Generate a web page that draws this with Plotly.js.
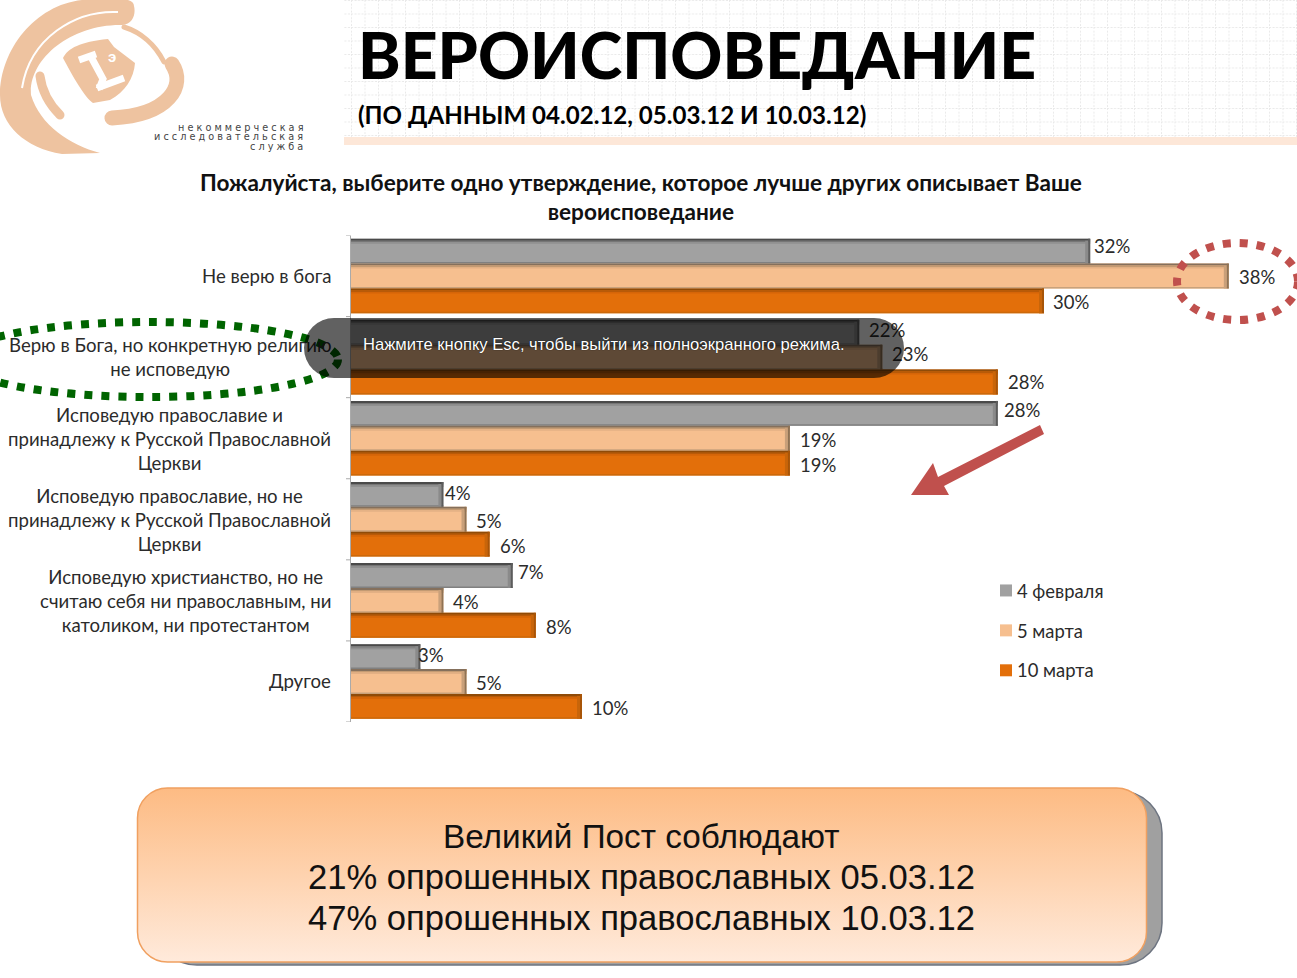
<!DOCTYPE html>
<html><head><meta charset="utf-8">
<script src="https://cdn.plot.ly/plotly-3.0.1.min.js"></script>
<style>
html,body{margin:0;padding:0;background:#fff;overflow:hidden}
#bg,#chart,#ov{position:absolute;left:0;top:0;width:1297px;height:978px}
#pill{position:absolute;left:304px;top:318px;width:600px;height:60px;border-radius:30px;background:rgba(0,0,0,.62);
color:#fff;font:16.6px "Liberation Sans",sans-serif;box-sizing:border-box;padding:17px 0 0 59px;white-space:nowrap;text-shadow:0 0 1px #000}
</style></head><body>
<svg id="bg" viewBox="0 0 1297 978">
<defs>
<pattern id="g" width="13.5" height="13.5" patternUnits="userSpaceOnUse"><path d="M0 .5H13.5M.5 0V13.5" stroke="#e9e9e9" stroke-width="1" stroke-dasharray="2 1.5" fill="none"/></pattern>
<linearGradient id="bx" x1="0" y1="0" x2="0" y2="1"><stop offset="0" stop-color="#fdbb83"/><stop offset="1" stop-color="#ffeadb"/></linearGradient>
</defs>
<rect x="344" y="0" width="953" height="137" fill="url(#g)"/>
<rect x="344" y="137" width="953" height="8" fill="#fde7d8"/>
<g fill="#eec3a0">
<path d="M134 6C134 -4 108 -2 82 0C35 5 0 50 0 95C0 125 25 148 62 154L100 153C70 145 40 125 31 95C28 60 70 24 122 25C133 24 136 14 134 6Z"/>
<path d="M63 58C68 48 80 42 108 39L114 47L135 63C134 78 125 92 110 100L93 103C85 98 72 75 63 58Z"/>
</g>
<g fill="none" stroke="#eec3a0" stroke-linecap="round">
<path d="M40 76C42 92 50 105 60 115" stroke-width="9"/>
<path d="M172 64C186 85 170 115 112 118" stroke-width="15"/>
<path d="M124 27C140 32 155 44 164 62" stroke-width="5"/>
</g>
<path d="M118 12C75 10 30 38 22 88" fill="none" stroke="#fff" stroke-width="2"/>
<g fill="none" stroke="#fff" stroke-width="7">
<path d="M79 60L96 54"/><path d="M90 55L103 79L99 89"/><path d="M97 88L124 78"/>
</g>
<text x="108" y="62" font-family="Liberation Sans" font-size="15" font-weight="bold" fill="#fff">э</text>
<rect x="155" y="791" width="1007" height="174" rx="42" fill="#a0a0a0" stroke="#6d7480" stroke-width="1.5"/>
<rect x="137.500" y="788" width="1009" height="174" rx="30" fill="url(#bx)" stroke="#f0a060" stroke-width="1.5"/>
</svg>
<div id="chart"></div>
<div id="ov"><div id="pill">Нажмите кнопку Esc, чтобы выйти из полноэкранного режима.</div></div>
<script>
const categories = ["Не верю в бога","Верю в Бога, но конкретную религию<br>не исповедую","Исповедую православие и<br>принадлежу к Русской Православной<br>Церкви","Исповедую православие, но не<br>принадлежу к Русской Православной<br>Церкви","Исповедую христианство, но не<br>считаю себя ни православным, ни<br>католиком, ни протестантом","Другое"];
const seriesNames = ["4 февраля","5 марта","10 марта"];
const feb4 = [32,22,28,4,7,3];
const mar5 = [38,23,19,5,4,5];
const mar10 = [30,28,19,6,8,10];
const heading = "Пожалуйста, выберите одно утверждение, которое лучше других описывает Ваше<br>вероисповедание";
const boxLines = ["Великий Пост соблюдают","21% опрошенных православных 05.03.12","47% опрошенных православных 10.03.12"];
const labelXShift = [[5,11,7,3,6,-1],[11,11,11,10,11,10],[10,11,11,11,11,11]];
const labelYShift = [[-5.5,-2.5,-3.5,-1.5,-3.5,-1.5],[0.5,-3.5,1.5,1.5,1.5,1.5],[1.5,0.5,1.5,1.5,1.5,1.5]];
const W=1297,H=978, PX=23.1, F='Lato, "Open Sans", sans-serif', TXT='#2b2b2b';
const px=x=>x/W, py=y=>1-y/H;
const TOP=235.5,BOT=722;
const main=['#a1a1a1','#f6bf8f','#e36f0a'], topA=['#4a4a4a','#85705c','#8f4b08'], topB=['#767676','#c39a72','#b85a08'], topC=['#909090','#e3b084','#d56508'], right=['#5c5c5c','#8f7355','#a85508'], right2=['#8a8a8a','#c9a07a','#c8650a'], bottom=['#808080','#c8a27c','#cc690a'];
const all=[feb4,mar5,mar10];
const gap=0.08, bw=(1-gap)/3, xu=1/PX, yp=6/(BOT-TOP);
const traces=all.map((v,k)=>({type:'bar',orientation:'h',name:seriesNames[k],y:categories.map((c,i)=>i),x:v,
 marker:{color:main[k],line:{width:0}},hoverinfo:'skip',legendgroup:'g'+k}));
const shapes=[];
all.forEach((v,k)=>v.forEach((n,i)=>{
 const y0=i-(1-gap)/2+k*bw, y1=y0+bw;
 const r=(x0,x1,a,b,c)=>shapes.push({type:'rect',xref:'x',yref:'y',x0,x1,y0:a,y1:b,fillcolor:c,line:{width:0},layer:'above'});
 r(0,n,y0,y0+2*yp,topA[k]);
 r(0,n,y0+2*yp,y0+3.5*yp,topB[k]);
 r(0,n,y0+3.5*yp,y0+5*yp,topC[k]);
 r(0,n,y1-1.5*yp,y1,bottom[k]);
 r(n-5*xu,n-2*xu,y0+2*yp,y1,right2[k]);
 r(n-2*xu,n,y0,y1,right[k]);
}));
// decorations
shapes.push({type:'circle',xref:'paper',yref:'paper',x0:px(-40),x1:px(338),y0:py(397),y1:py(322),line:{color:'#006400',width:8,dash:'8px,9px'},fillcolor:'rgba(0,0,0,0)'});
shapes.push({type:'circle',xref:'paper',yref:'paper',x0:px(1177),x1:px(1298),y0:py(320),y1:py(243),line:{color:'#c0504d',width:8,dash:'8px,9px'},fillcolor:'rgba(0,0,0,0)'});
const arrow=[[1040,425],[1044,434],[944,486],[949,495],[911,495],[933,463],[938,477]];
shapes.push({type:'path',xref:'paper',yref:'paper',path:'M'+arrow.map(p=>px(p[0])+','+py(p[1])).join('L')+'Z',fillcolor:'#c0504d',line:{width:0}});
const ann=categories.map((c,i)=>({xref:'paper',yref:'y',x:px(333),y:i,yshift:(c.split('<br>').length===3?-1:0),text:c,showarrow:false,xanchor:'right',yanchor:'middle',align:'center',font:{family:F,size:18.6,color:TXT}}));
all.forEach((v,k)=>v.forEach((n,i)=>ann.push({xref:'x',yref:'y',x:n,y:i+(k-1)*bw,text:n+'%',showarrow:false,xanchor:'left',yanchor:'middle',xshift:labelXShift[k][i]-3,yshift:-labelYShift[k][i],font:{family:F,size:18.5,color:TXT}})));
ann.push({xref:'paper',yref:'paper',x:px(641),y:py(196.5),text:heading,showarrow:false,xanchor:'center',yanchor:'middle',align:'center',font:{family:F,size:22.6,color:'#111',weight:700}});
ann.push({xref:'paper',yref:'paper',x:px(356),y:py(114),text:"(ПО ДАННЫМ 04.02.12, 05.03.12 И 10.03.12)",showarrow:false,xanchor:'left',yanchor:'middle',font:{family:F,size:24.1,color:'#000',weight:700}});
boxLines.forEach((t,i)=>ann.push({xref:'paper',yref:'paper',x:px(641.5),y:py(836+41*i),text:t,showarrow:false,xanchor:'center',yanchor:'middle',font:{family:'"Liberation Sans",sans-serif',size:i?34.6:33.3,color:'#111'}}));
["н е к о м м е р ч е с к а я","и с с л е д о в а т е л ь с к а я","с л у ж б а"].forEach((t,i)=>ann.push({xref:'paper',yref:'paper',x:px(305),y:py([127,136.500,146][i]),text:t,showarrow:false,xanchor:'right',yanchor:'middle',font:{family:'"DejaVu Sans"',size:9.7,color:'#444'}}));
const layout={width:W,height:H,margin:{l:0,r:0,t:0,b:0},paper_bgcolor:'rgba(0,0,0,0)',plot_bgcolor:'rgba(0,0,0,0)',
 title:{text:"ВЕРОИСПОВЕДАНИЕ",x:358/W,xanchor:'left',y:py(56),yanchor:'middle',font:{family:F,size:64.3,color:'#000',weight:900}},
 barmode:'group',bargap:gap,bargroupgap:0,
 xaxis:{domain:[px(351),1],range:[0,(W-351)/PX],visible:false},
 yaxis:{domain:[py(BOT),py(TOP)],range:[5.5,-0.5],tickmode:'array',tickvals:[0,1,2,3,4,5],showticklabels:false,showgrid:false,zeroline:false,showline:true,linecolor:'#aaa',linewidth:1,ticks:''},
 showlegend:true,legend:{x:px(986),y:py(572),xanchor:'left',yanchor:'top',bgcolor:'rgba(0,0,0,0)',tracegroupgap:13,indentation:-9,traceorder:'grouped',font:{family:F,size:18.4,color:TXT}},
 shapes,annotations:ann};
// category separators at the band boundaries
[0,1,2,3,4,5,6].forEach(i=>shapes.push({type:'line',xref:'paper',yref:'y',x0:px(346),x1:px(351),y0:i-.5,y1:i-.5,line:{color:'#aaa',width:1}}));
Plotly.newPlot('chart',traces,layout,{displayModeBar:false,staticPlot:true}).then(()=>{
 document.querySelectorAll('#chart .legendsymbols').forEach(e=>e.setAttribute('transform','translate(9,0)'));
});
</script></body></html>
